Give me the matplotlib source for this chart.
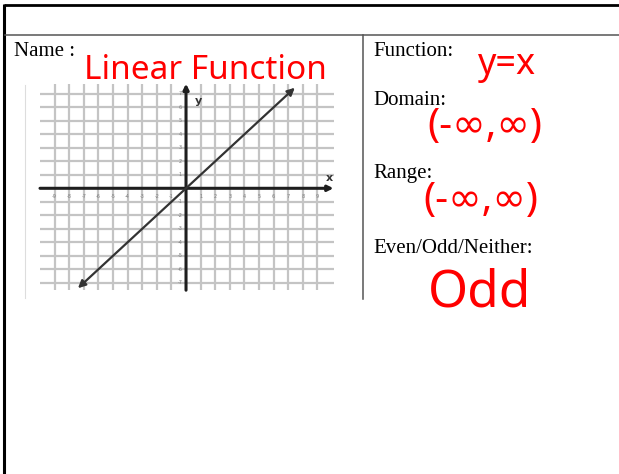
import matplotlib
matplotlib.use("Agg")
import matplotlib.pyplot as plt
import numpy as np

# ---- content -------------------------------------------------------------
x_ticks = [-9, -8, -7, -6, -5, -4, -3, -2, -1, 1, 2, 3, 4, 5, 6, 7, 8, 9]
y_ticks = [-7, -6, -5, -4, -3, -2, -1, 1, 2, 3, 4, 5, 6, 7]
line_x = [-7.4, 7.45]          # drawn segment of y = x
line_y = [-7.4, 7.45]

labels = ["Name :", "Function:", "Domain:", "Range:", "Even/Odd/Neither:"]
answers = ["Linear Function", "y=x", "(-∞,∞)", "(-∞,∞)", "Odd"]

W, H = 619, 474
fig = plt.figure(figsize=(W / 100, H / 100), dpi=100)
fig.patch.set_facecolor("white")

# ---- page overlay in pixel coordinates -----------------------------------
page = fig.add_axes([0, 0, 1, 1])
page.set_xlim(0, W)
page.set_ylim(H, 0)
page.axis("off")
page.patch.set_alpha(0)

# outer frame
page.plot([4, W], [4.5, 4.5], color="black", lw=2.0, solid_capstyle="butt")
page.plot([4.3, 4.3], [3.5, H], color="black", lw=2.2, solid_capstyle="butt")
# table rules
page.plot([5, W], [34.5, 34.5], color="#555555", lw=1.1)
page.plot([362.7, 362.7], [34.5, 299], color="#555555", lw=1.1)
# left edge of the graph picture
page.plot([25, 25], [85, 298], color="#dddddd", lw=0.8)

serif = dict(family="Liberation Serif", fontsize=15, color="black", va="baseline")
page.text(14, 55.5, labels[0], ha="left", **serif)
page.text(373, 56, labels[1], ha="left", **serif)
page.text(373, 105, labels[2], ha="left", **serif)
page.text(373, 178, labels[3], ha="left", **serif)
page.text(373, 252.5, labels[4], ha="left", **serif)

hand = dict(family=["Noto Sans", "DejaVu Sans"], color="#ff0000",
            ha="center", va="center")
page.text(205, 70, answers[0], fontsize=24, **hand)
page.text(507, 65, answers[1], fontsize=26, **hand)
page.text(485, 127, answers[2], fontsize=29, **hand)
page.text(481, 201, answers[3], fontsize=29, **hand)
page.text(480, 293, answers[4], fontsize=37, **hand)

# ---- coordinate grid -------------------------------------------------------
x0, x1 = -10.0, 10.1
y0, y1 = -7.55, 7.75
px_left, px_right = 40.0, 333.5
px_top, px_bottom = 83.7, 290.2
ax = fig.add_axes([px_left / W, 1 - px_bottom / H,
                   (px_right - px_left) / W, (px_bottom - px_top) / H])
ax.set_xlim(x0, x1)
ax.set_ylim(y0, y1)
ax.axis("off")
ax.patch.set_alpha(0)

grid_kw = dict(color="#c4c4c4", lw=1.6, zorder=1)
for xv in x_ticks:
    ax.plot([xv, xv], [y0, y1], **grid_kw)
for yv in y_ticks:
    ax.plot([x0, x1], [yv, yv], **grid_kw)

# axes with arrowheads
ax.annotate("", xy=(x1, 0), xytext=(x0, 0),
            arrowprops=dict(arrowstyle="-|>", color="#1e1e1e", lw=2.2,
                            mutation_scale=8, shrinkA=0, shrinkB=0), zorder=3)
ax.annotate("", xy=(0, y1), xytext=(0, y0),
            arrowprops=dict(arrowstyle="-|>", color="#1e1e1e", lw=2.2,
                            mutation_scale=8, shrinkA=0, shrinkB=0), zorder=3)

# the graphed line y = x
ax.annotate("", xy=(line_x[1], line_y[1]), xytext=(line_x[0], line_y[0]),
            arrowprops=dict(arrowstyle="<|-|>", color="#333333", lw=1.6,
                            mutation_scale=11, shrinkA=0, shrinkB=0), zorder=4)

tick_kw = dict(fontsize=3.6, color="#808080", ha="center", va="center")
for xv in x_ticks:
    ax.text(xv, -0.62, str(xv), **tick_kw)
for yv in y_ticks:
    ax.text(-0.42, yv, str(yv), **tick_kw)

ax.text(9.8, 0.75, "x", fontsize=8, fontweight="bold", color="#333333",
        ha="center", va="center")
ax.text(0.82, 6.45, "y", fontsize=8, fontweight="bold", color="#333333",
        ha="center", va="center")

fig.savefig("out.png", dpi=100, facecolor="white")
